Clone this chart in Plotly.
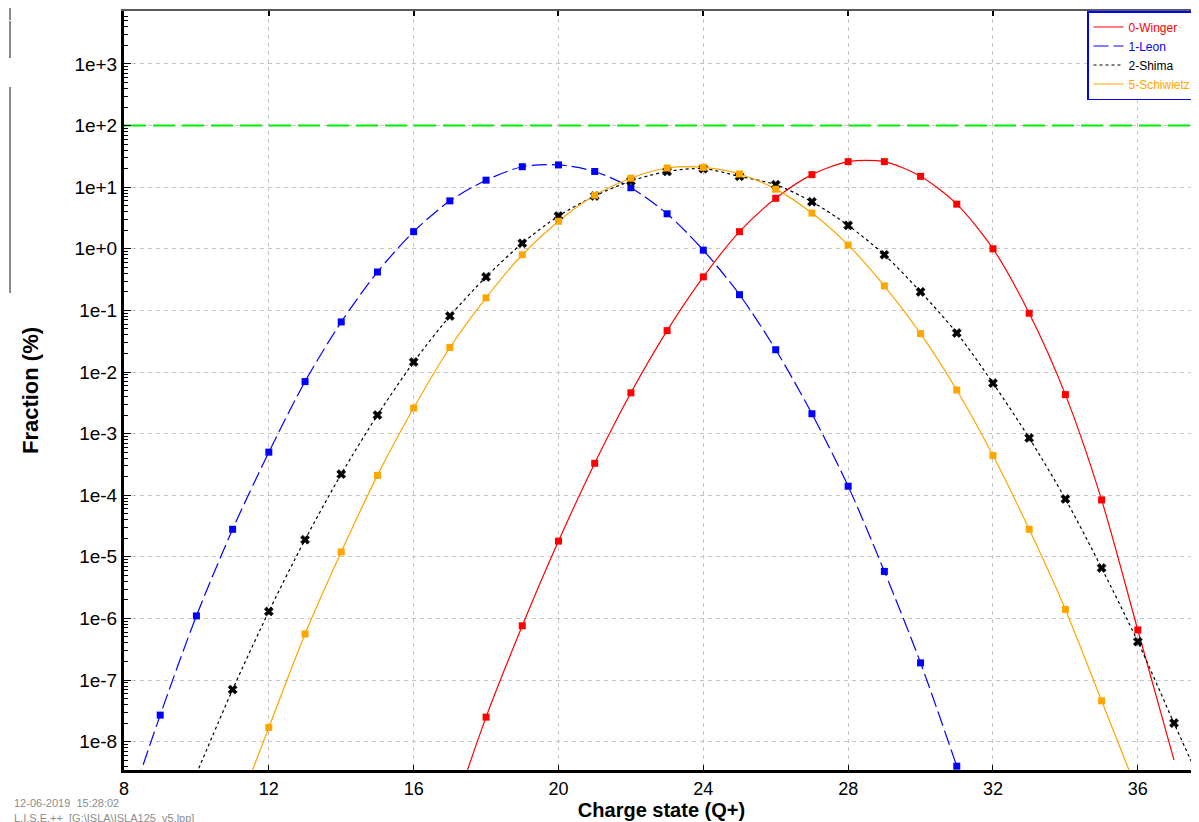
import plotly.graph_objects as go

# ---------------- data ----------------
# charge states with measured points (markers)
q_winger = [18, 19, 20, 21, 22, 23, 24, 25, 26, 27, 28, 29, 30, 31, 32, 33, 34, 35, 36]
f_winger = [2.5e-8, 7.6e-7, 1.8e-5, 3.3e-4, 4.6e-3, 0.047, 0.35, 1.9, 6.6, 16, 26, 26,
            15, 5.3, 1.0, 0.09, 4.3e-3, 8.4e-5, 6.5e-7]
q_leon = [9, 10, 11, 12, 13, 14, 15, 16, 17, 18, 19, 20, 21, 22, 23, 24, 25, 26, 27, 28, 29, 30, 31]
f_leon = [2.7e-8, 1.1e-6, 2.8e-5, 5.0e-4, 7.0e-3, 0.065, 0.42, 1.9, 6.0, 13, 21.5, 23, 18,
          9.8, 3.7, 0.95, 0.18, 0.023, 2.1e-3, 1.4e-4, 5.8e-6, 1.9e-7, 4.0e-9]
q_shima = [11, 12, 13, 14, 15, 16, 17, 18, 19, 20, 21, 22, 23, 24, 25, 26, 27, 28, 29, 30,
           31, 32, 33, 34, 35, 36, 37]
f_shima = [7.0e-8, 1.3e-6, 1.9e-5, 2.2e-4, 2.0e-3, 0.0145, 0.081, 0.35, 1.23, 3.4, 7.2, 12.6,
           18, 20, 15, 11, 5.8, 2.4, 0.8, 0.2, 0.043, 6.6e-3, 8.5e-4, 8.7e-5, 6.6e-6, 4.2e-7, 2.0e-8]
q_schiwietz = [12, 13, 14, 15, 16, 17, 18, 19, 20, 21, 22, 23, 24, 25, 26, 27, 28, 29, 30,
               31, 32, 33, 34, 35]
f_schiwietz = [1.7e-8, 5.6e-7, 1.2e-5, 2.1e-4, 2.6e-3, 0.025, 0.16, 0.8, 2.8, 7.4, 14, 20.5,
               21, 16.4, 9.3, 3.8, 1.15, 0.25, 0.042, 5.1e-3, 4.4e-4, 2.8e-5, 1.4e-6, 4.6e-8]

# curve continuations beyond the marked points (lead-in, lead-out)
tail_winger = ([17], [5e-10], [37], [5e-9])
tail_leon = ([8], [5e-10], [], [])
tail_shima = ([10], [3e-9], [38], [1e-9])
tail_schiwietz = ([11], [5e-10], [36], [1.5e-9])

reference_level = 100  # green dashed line (%)

series_names = ["0-Winger", "1-Leon", "2-Shima", "5-Schiwietz"]
x_ticks = [8, 12, 16, 20, 24, 28, 32, 36]
y_tick_exps = list(range(-8, 4))
y_tick_vals = [10.0 ** e for e in y_tick_exps]
y_tick_text = ["1e+%d" % e if e >= 0 else "1e%d" % e for e in y_tick_exps]
minor_vals = [m * 10.0 ** e for e in range(-9, 4) for m in range(2, 10)]

x_range = [8, 37.69]
y_range = [-8.46, 3.86]

FONT = "Arial, Liberation Sans, sans-serif"

# the page body has an 8px margin: figure origin sits at page (8, 8)
OFF = 8
PL, PR, PT, PB = 124, 1199, 11, 770  # plot area in page pixels


def px(xp):
    return (xp - PL) / (PR - PL)


def py(yp):
    return (PB - yp) / (PB - PT)


fig = go.Figure()

styles = [
    dict(color="#ff0000", dash="solid", symbol="square", msize=7),
    dict(color="#0000ff", dash="15px,5px", symbol="square", msize=7),
    dict(color="#000000", dash="3px,3px", symbol="x", msize=8),
    dict(color="#ffa500", dash="solid", symbol="square", msize=7),
]
datasets = [
    (q_winger, f_winger, tail_winger),
    (q_leon, f_leon, tail_leon),
    (q_shima, f_shima, tail_shima),
    (q_schiwietz, f_schiwietz, tail_schiwietz),
]

for name, st, (q, f, tail) in zip(series_names, styles, datasets):
    qa = tail[0] + q + tail[2]
    fa = tail[1] + f + tail[3]
    fig.add_trace(go.Scatter(
        x=qa, y=fa, mode="lines",
        line=dict(color=st["color"], width=1.2, dash=st["dash"], shape="spline", smoothing=0.8),
        name="<span style='color:%s'>%s</span>" % (st["color"], name),
        showlegend=True, hoverinfo="skip", cliponaxis=True,
    ))
for name, st, (q, f, tail) in zip(series_names, styles, datasets):
    fig.add_trace(go.Scatter(
        x=q, y=f, mode="markers",
        marker=dict(symbol=st["symbol"], size=st["msize"], color=st["color"],
                    line=dict(width=0.6 if st["symbol"] == "x" else 0, color=st["color"])),
        showlegend=False, name=name, cliponaxis=True,
    ))

# green reference line, on the overlaid top axis
fig.add_trace(go.Scatter(
    x=x_range, y=[reference_level, reference_level], mode="lines",
    line=dict(color="#00ee00", width=2, dash="22px,7px"),
    showlegend=False, xaxis="x2", hoverinfo="skip",
))

fig.update_layout(
    width=PR - OFF, height=822 - OFF,
    margin=dict(l=PL - OFF, r=0, t=PT - OFF, b=822 - PB),
    paper_bgcolor="white", plot_bgcolor="white",
    font=dict(family=FONT, color="black"),
    showlegend=True,
    legend=dict(
        x=px(1197), y=1, xanchor="right", yanchor="top",
        bgcolor="white", bordercolor="#0000ff", borderwidth=1.5,
        font=dict(size=12, family=FONT), itemwidth=30,
        tracegroupgap=0,
    ),
    xaxis=dict(
        range=x_range, tickmode="array", tickvals=x_ticks,
        showline=True, linecolor="black", linewidth=3,
        ticks="inside", ticklen=5, tickcolor="black",
        showgrid=True, gridcolor="#c4c4c4", griddash="4px,4px", gridwidth=1,
        zeroline=False, tickfont=dict(size=18, family=FONT),
        title=dict(text="<b>Charge state (Q+)</b>", font=dict(size=20, family=FONT), standoff=4),
    ),
    xaxis2=dict(
        range=x_range, overlaying="x", side="top", anchor="y",
        tickmode="array", tickvals=x_ticks, showticklabels=False,
        showline=True, linecolor="#5a5a5a", linewidth=2,
        ticks="inside", ticklen=5, tickcolor="black", tickwidth=2,
        showgrid=False, zeroline=False,
    ),
    yaxis=dict(
        type="log", range=y_range, tickmode="array",
        tickvals=y_tick_vals, ticktext=y_tick_text,
        showline=True, linecolor="black", linewidth=3,
        ticks="inside", ticklen=7, tickcolor="black",
        minor=dict(tickmode="array", tickvals=minor_vals, ticks="inside", ticklen=4,
                   tickcolor="black", showgrid=False),
        showgrid=True, gridcolor="#c4c4c4", griddash="4px,4px", gridwidth=1,
        zeroline=False, tickfont=dict(size=19, family=FONT),
        title=dict(text="<b>Fraction (%)</b>", font=dict(size=22, family=FONT), standoff=30),
    ),
)

# window-edge artefact on the left and footer texts
for y0, y1 in [(8, 20), (21, 58), (87, 293)]:
    fig.add_shape(type="line", xref="paper", yref="paper",
                  x0=px(10), x1=px(10), y0=py(y0), y1=py(y1),
                  line=dict(color="#8a8a8a", width=2))

fig.add_annotation(xref="paper", yref="paper", x=px(12), y=py(795),
                   xanchor="left", yanchor="top", showarrow=False,
                   text="12-06-2019  15:28:02", font=dict(size=11, color="#8c8c8c", family=FONT))
fig.add_annotation(xref="paper", yref="paper", x=px(12), y=py(810),
                   xanchor="left", yanchor="top", showarrow=False,
                   text="L.I.S.E.++  [G:\\ISLA\\ISLA125_v5.lpp]", font=dict(size=11, color="#8c8c8c", family=FONT))

fig.write_html("out.html")
